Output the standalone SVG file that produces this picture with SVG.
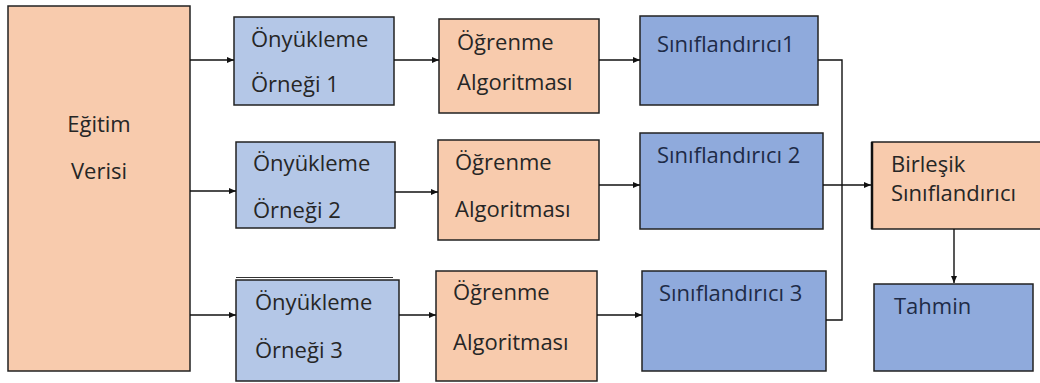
<svg xmlns="http://www.w3.org/2000/svg" width="1040" height="383" viewBox="0 0 1040 383">
<defs>
<marker id="ah" markerWidth="8" markerHeight="8" refX="7" refY="4" orient="auto" markerUnits="userSpaceOnUse">
<path d="M0,1 L7,4 L0,7 Z" fill="#111"/>
</marker>
<style>
.peach{fill:#F8CBAD;stroke:#222;stroke-width:1.5}
.lblue{fill:#B4C7E7;stroke:#222;stroke-width:1.5}
.mblue{fill:#8FAADC;stroke:#222;stroke-width:1.5}
text{font-family:"Open Sans","DejaVu Sans",sans-serif;font-size:22px;fill:#262626}
.nv{fill:#1E2B47}
.ln{fill:none;stroke:#111;stroke-width:1.4}
</style>
</defs>
<rect width="1040" height="383" fill="#fff"/>
<g id="egitim"><rect class="peach" x="8" y="6" width="182" height="365"/><text x="99" y="132" text-anchor="middle">Eğitim</text><text x="99" y="179" text-anchor="middle">Verisi</text></g>
<g id="onyukleme1"><rect class="lblue" x="234" y="17" width="160" height="88"/><text x="251" y="47">Önyükleme</text><text x="251" y="92">Örneği 1</text></g>
<g id="onyukleme2"><rect class="lblue" x="236" y="142" width="159" height="86"/><text x="253" y="171">Önyükleme</text><text x="253" y="218">Örneği 2</text></g>
<g id="onyukleme3"><line x1="236" y1="277.5" x2="393" y2="277.5" stroke="#333" stroke-width="1.2"/><rect class="lblue" x="236" y="280" width="163" height="101"/><text x="255" y="310">Önyükleme</text><text x="255" y="358">Örneği 3</text></g>
<g id="ogrenme1"><rect class="peach" x="439" y="19" width="160" height="94"/><text x="457" y="50">Öğrenme</text><text x="457" y="90">Algoritması</text></g>
<g id="ogrenme2"><rect class="peach" x="438" y="140" width="161" height="100"/><text x="455" y="170">Öğrenme</text><text x="455" y="217">Algoritması</text></g>
<g id="ogrenme3"><rect class="peach" x="436" y="271" width="161" height="110"/><text x="453" y="300">Öğrenme</text><text x="453" y="350">Algoritması</text></g>
<g id="sinif1"><rect class="mblue" x="640" y="16" width="178" height="89"/><text class="nv" x="657" y="52">Sınıflandırıcı1</text></g>
<g id="sinif2"><rect class="mblue" x="640" y="133" width="183" height="96"/><text class="nv" x="657" y="163">Sınıflandırıcı 2</text></g>
<g id="sinif3"><rect class="mblue" x="642" y="271" width="184" height="100"/><text class="nv" x="659" y="301">Sınıflandırıcı 3</text></g>
<g id="birlesik"><rect class="peach" x="872" y="142" width="180" height="87"/><line x1="872" y1="142" x2="872" y2="229" stroke="#111" stroke-width="2.5"/><text x="891" y="172">Birleşik</text><text x="891" y="201">Sınıflandırıcı</text></g>
<g id="tahmin"><rect class="mblue" x="874" y="284" width="159" height="87"/><text class="nv" x="894" y="314">Tahmin</text></g>
<g id="connectors">
<line class="ln" x1="190" y1="60" x2="234" y2="60" marker-end="url(#ah)"/>
<line class="ln" x1="190" y1="191" x2="236" y2="191" marker-end="url(#ah)"/>
<line class="ln" x1="190" y1="315" x2="236" y2="315" marker-end="url(#ah)"/>
<line class="ln" x1="394" y1="60" x2="439" y2="60" marker-end="url(#ah)"/>
<line class="ln" x1="395" y1="192" x2="438" y2="192" marker-end="url(#ah)"/>
<line class="ln" x1="399" y1="315" x2="436" y2="315" marker-end="url(#ah)"/>
<line class="ln" x1="599" y1="60" x2="640" y2="60" marker-end="url(#ah)"/>
<line class="ln" x1="599" y1="185" x2="640" y2="185" marker-end="url(#ah)"/>
<line class="ln" x1="597" y1="315" x2="642" y2="315" marker-end="url(#ah)"/>
<polyline class="ln" points="818,60 842,60 842,320 826,320"/>
<line class="ln" x1="823" y1="185" x2="871" y2="185" marker-end="url(#ah)"/>
<line class="ln" x1="954" y1="229" x2="954" y2="283" marker-end="url(#ah)"/>
</g>
</svg>
